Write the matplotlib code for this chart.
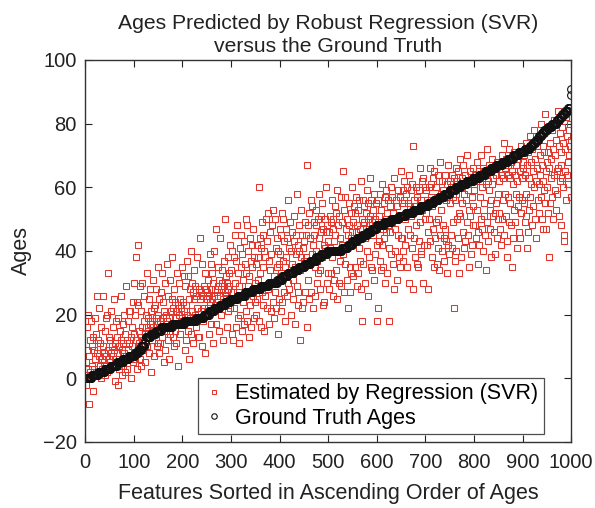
import numpy as np
import matplotlib.pyplot as plt

plt.rcParams['font.family'] = ['Liberation Sans', 'DejaVu Sans']

# Ground truth ages (sorted) given as: age value and how many samples have it
truth_age_values = [0, 1, 2, 3, 4, 5, 6, 7, 8, 9, 10, 11, 12, 13, 14, 15, 16, 17, 18, 19,
                    20, 21, 22, 23, 24, 25, 26, 27, 28, 29, 30, 31, 32, 33, 34, 35, 36, 37, 38, 39,
                    40, 41, 42, 43, 44, 45, 46, 47, 48, 49, 50, 51, 52, 53, 54, 55, 56, 57, 58, 59,
                    60, 61, 62, 63, 64, 65, 66, 67, 68, 69, 70, 71, 72, 73, 74, 75, 76, 77, 78, 79,
                    80, 81, 82, 83, 84, 85, 89, 91]
truth_age_counts = [13, 13, 13, 13, 13, 12, 12, 12, 7, 7, 7, 1, 1, 10, 10, 12, 22, 25, 25, 15,
                    11, 11, 11, 11, 11, 15, 15, 16, 16, 17, 17, 11, 11, 12, 11, 12, 11, 12, 11, 12,
                    30, 12, 10, 10, 10, 10, 10, 10, 15, 15, 15, 15, 15, 15, 16, 11, 11, 11, 11, 12,
                    11, 12, 13, 13, 12, 12, 11, 12, 11, 12, 11, 12, 11, 6, 6, 6, 6, 6, 7, 8,
                    10, 6, 6, 6, 6, 5, 1, 1]

# Ages estimated by SVR, in the same (sorted-by-truth) order
estimated_ages = [
    5, -2, 16, 9, 1, 20, 3, -8, 7, 12, 2, 18, 0, 10, 4, -4, 13, 9, 3, 19, 6, 1, 14, 8, 26, 2, 12, 7, 22, 4, 11, 0, 16, 6, 3, 10, 26, 5, 8, 1, 15, 4, 19, 7, 20, 2, 9, 33, 6, 13,
    12, 5, 8, 21, 10, 4, 16, 7, 25, 9, -1, 11, 6, 18, 8, 13, -2, 19, 10, 3, 15, 5, 12, 26, 9, 1, 17, 11, 4, 20, 8, 14, 2, 29, 7, 12, 3, 18, 9, 21, 11, 6, 21, 13, 0, 16, 10, 24, 5, 30,
    14, 20, 6, 38, 12, 24, 3, 23, 42, 11, 15, 29, 6, 13, 21, 4, 16, 30, 12, 9, 18, 26, 14, 5, 20, 16, 33, 10, 19, 15, 25, 8, 17, 28, 2, 21, 18, 12, 31, 16, 22, 7, 23, 15, 19, 28, 10, 17, 35, 11,
    20, 8, 25, 18, 11, 27, 16, 33, 13, 19, 24, 5, 21, 9, 30, 15, 20, 18, 36, 12, 26, 19, 6, 31, 14, 21, 17, 25, 38, 13, 22, 10, 28, 15, 24, 19, 11, 21, 33, 17, 23, 4, 30, 20, 14, 25, 18, 22, 35, 19,
    24, 18, 32, 21, 9, 29, 23, 12, 37, 20, 32, 15, 25, 6, 28, 19, 40, 14, 30, 21, 27, 11, 18, 34, 25, 20, 29, 16, 26, 22, 38, 13, 19, 28, 13, 25, 44, 21, 27, 10, 36, 18, 26, 29, 22, 33, 8, 20, 28, 25,
    27, 22, 31, 14, 26, 39, 24, 36, 17, 28, 33, 25, 11, 30, 26, 40, 23, 28, 47, 17, 27, 24, 35, 29, 15, 31, 26, 44, 28, 20, 30, 34, 25, 12, 29, 37, 27, 50, 32, 26, 16, 30, 28, 38, 21, 33, 29, 22, 42, 27,
    34, 14, 40, 27, 12, 38, 22, 45, 30, 16, 37, 25, 48, 19, 33, 11, 29, 41, 20, 45, 35, 15, 39, 24, 31, 43, 17, 36, 27, 50, 21, 33, 48, 18, 40, 29, 13, 32, 44, 23, 37, 16, 35, 42, 26, 47, 19, 38, 30, 24,
    36, 20, 42, 25, 38, 31, 60, 18, 44, 33, 16, 41, 27, 49, 23, 45, 35, 40, 15, 26, 38, 29, 50, 22, 43, 52, 28, 37, 17, 34, 46, 21, 39, 30, 48, 24, 53, 32, 19, 50, 27, 41, 22, 44, 35, 14, 40, 36, 25, 47,
    39, 21, 45, 33, 52, 24, 37, 50, 27, 43, 35, 18, 47, 38, 26, 44, 30, 56, 28, 41, 33, 49, 40, 20, 36, 46, 25, 31, 43, 51, 35, 17, 45, 39, 58, 29, 42, 27, 23, 40, 48, 34, 12, 53, 38, 45, 22, 41, 24, 37,
    43, 27, 49, 38, 45, 67, 16, 31, 48, 25, 52, 36, 44, 27, 56, 39, 54, 42, 22, 49, 45, 35, 26, 48, 40, 53, 30, 37, 50, 33, 58, 44, 28, 34, 51, 46, 38, 55, 23, 47, 42, 24, 50, 41, 46, 60, 30, 48, 43, 33,
    46, 28, 51, 41, 33, 49, 56, 38, 47, 26, 50, 43, 31, 54, 45, 34, 52, 25, 59, 40, 48, 30, 51, 37, 44, 57, 29, 49, 42, 65, 39, 53, 27, 36, 57, 47, 41, 31, 50, 45, 22, 55, 48, 35, 27, 52, 44, 33, 60, 46,
    49, 32, 54, 44, 35, 52, 46, 57, 29, 48, 33, 53, 41, 56, 47, 37, 62, 28, 50, 18, 56, 36, 49, 54, 44, 30, 52, 47, 59, 40, 50, 55, 26, 48, 38, 63, 51, 35, 56, 34, 49, 53, 45, 31, 58, 50, 39, 48, 55, 42,
    18, 22, 56, 43, 51, 37, 58, 34, 53, 42, 61, 47, 35, 55, 44, 57, 30, 50, 59, 46, 52, 33, 48, 56, 41, 18, 54, 46, 39, 60, 49, 57, 36, 52, 28, 63, 47, 40, 56, 50, 31, 54, 45, 59, 51, 38, 57, 35, 44, 65,
    55, 44, 59, 37, 40, 56, 62, 50, 42, 58, 52, 35, 60, 47, 55, 30, 64, 54, 45, 59, 51, 41, 61, 28, 73, 56, 44, 54, 38, 60, 48, 57, 36, 35, 53, 43, 59, 49, 66, 39, 56, 40, 62, 53, 30, 63, 54, 42, 60, 50,
    52, 59, 42, 56, 28, 46, 60, 50, 66, 43, 57, 61, 38, 54, 63, 47, 35, 65, 44, 56, 49, 60, 36, 57, 64, 50, 41, 62, 34, 68, 45, 58, 53, 40, 62, 48, 59, 44, 37, 64, 47, 56, 43, 61, 33, 67, 42, 58, 39, 62,
    55, 45, 60, 64, 41, 57, 49, 63, 22, 56, 37, 66, 58, 40, 62, 50, 65, 44, 33, 52, 69, 51, 60, 38, 63, 55, 46, 67, 58, 41, 64, 43, 56, 61, 49, 70, 45, 59, 53, 35, 65, 51, 62, 39, 57, 42, 66, 54, 48, 61,
    59, 48, 64, 44, 62, 53, 68, 46, 36, 65, 42, 57, 63, 50, 70, 47, 60, 40, 66, 55, 51, 64, 45, 61, 34, 72, 49, 62, 43, 59, 67, 53, 47, 65, 56, 38, 61, 69, 51, 63, 46, 66, 39, 52, 64, 55, 44, 68, 58, 50,
    62, 52, 67, 47, 64, 42, 70, 50, 63, 56, 74, 45, 66, 58, 51, 69, 38, 43, 67, 57, 64, 49, 72, 55, 63, 48, 68, 35, 65, 44, 61, 53, 71, 64, 49, 58, 67, 41, 62, 54, 69, 57, 46, 65, 44, 52, 73, 56, 63, 68,
    66, 55, 70, 49, 64, 58, 74, 51, 67, 41, 46, 71, 63, 53, 76, 57, 68, 61, 48, 72, 65, 54, 78, 60, 50, 69, 62, 44, 73, 66, 56, 75, 61, 52, 70, 64, 80, 57, 67, 50, 73, 62, 47, 71, 59, 55, 83, 65, 47, 68,
    60, 71, 52, 38, 66, 74, 55, 63, 69, 78, 57, 50, 72, 64, 81, 59, 70, 53, 75, 65, 58, 84, 66, 73, 51, 62, 77, 67, 48, 71, 63, 79, 60, 74, 45, 43, 65, 72, 82, 56, 64, 76, 68, 61, 78, 70, 80, 73, 57, 75,
]

truth_ages = np.repeat(truth_age_values, truth_age_counts)
x_est = np.arange(1, len(estimated_ages) + 1)
x_truth = np.arange(1, len(truth_ages) + 1)

fig = plt.figure(figsize=(5.95, 5.08), dpi=100)
ax = fig.add_axes([0.143, 0.130, 0.817, 0.752])

ax.plot(x_est, estimated_ages, 's', mfc='none', mec='#e3352b', ms=5.0, mew=0.75,
        label='Estimated by Regression (SVR)')
ax.plot(x_truth, truth_ages, 'o', mfc='none', mec='#111111', ms=5.6, mew=0.8,
        label='Ground Truth Ages')

ax.set_xlim(0, 1000)
ax.set_ylim(-20, 100)
ax.set_xticks(np.arange(0, 1001, 100))
ax.set_yticks(np.arange(-20, 101, 20))
ax.tick_params(direction='in', length=5, width=0.8, top=True, right=True,
               labelsize=14.5, colors='#222222')
ax.tick_params(axis='x', pad=8)
ax.tick_params(axis='y', pad=6)
for s in ax.spines.values():
    s.set_linewidth(1.0)
    s.set_color('#333333')

ax.set_title('Ages Predicted by Robust Regression (SVR)\nversus the Ground Truth',
             fontsize=15.2, color='#222222', pad=6, linespacing=1.25)
ax.set_xlabel('Features Sorted in Ascending Order of Ages', fontsize=15.5, color='#222222', labelpad=8)
ax.set_ylabel('Ages', fontsize=15.5, color='#222222', labelpad=8)

leg = ax.legend(loc='lower right', bbox_to_anchor=(0.944, 0.021), borderaxespad=0,
                fontsize=15.5, frameon=True, fancybox=False, edgecolor='#222222',
                handletextpad=0.5, handlelength=1.0, borderpad=0.25, labelspacing=0.15,
                markerscale=0.7)
leg.get_frame().set_linewidth(0.9)

fig.savefig('out.png', dpi=100)
